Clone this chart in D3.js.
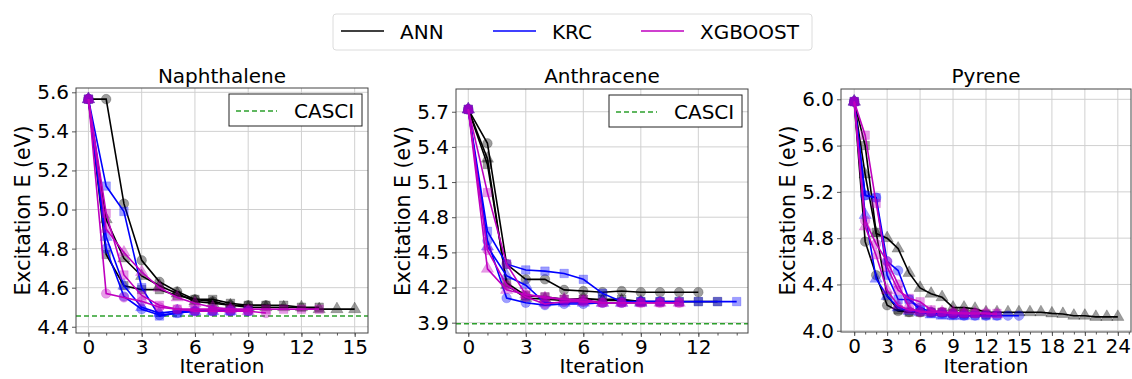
<!DOCTYPE html>
<html>
<head>
<meta charset="utf-8">
<script src="https://cdn.jsdelivr.net/npm/d3@7"></script>
<style>
  body { margin: 0; background: #fff; }
  svg { font-family: "DejaVu Sans", sans-serif; }
</style>
</head>
<body>
<svg id="chart" width="1132" height="379"></svg>
<script>
// ---- data (runs per method: circle, square, triangle markers) ----
const methods = ["ANN", "KRC", "XGBOOST"];

const naphANN = [
  [5.565, 5.565, 5.03, 4.74, 4.63, 4.58, 4.54, 4.53, 4.51, 4.51, 4.51],
  [5.565, 4.77, 4.61, 4.59, 4.59, 4.56, 4.54, 4.54, 4.52, 4.51, 4.51, 4.51, 4.50, 4.50],
  [5.565, 4.95, 4.75, 4.66, 4.61, 4.57, 4.53, 4.52, 4.51, 4.50, 4.50, 4.50, 4.50, 4.49, 4.49, 4.49]
];
const naphKRC = [
  [5.565, 4.80, 4.555, 4.49, 4.46, 4.47, 4.48, 4.48, 4.48, 4.48],
  [5.565, 5.12, 4.99, 4.60, 4.455, 4.47, 4.48, 4.48, 4.48, 4.48],
  [5.565, 4.86, 4.61, 4.50, 4.47, 4.48, 4.48, 4.48, 4.48]
];
const naphXGB = [
  [5.565, 4.57, 4.55, 4.53, 4.50, 4.49, 4.48, 4.48, 4.48, 4.48, 4.47],
  [5.565, 4.98, 4.665, 4.56, 4.51, 4.49, 4.49, 4.49, 4.49, 4.49, 4.49, 4.49, 4.49, 4.49],
  [5.565, 4.90, 4.78, 4.68, 4.60, 4.55, 4.52, 4.50, 4.49, 4.48]
];

const anthANN = [
  [5.72, 5.43, 4.40, 4.27, 4.27, 4.18, 4.17, 4.16, 4.17, 4.16, 4.16, 4.16, 4.16],
  [5.72, 5.25, 4.24, 4.13, 4.12, 4.10, 4.10, 4.10, 4.10, 4.08, 4.08, 4.08, 4.08, 4.08],
  [5.72, 5.30, 4.22, 4.11, 4.10, 4.09, 4.11, 4.09, 4.09, 4.08]
];
const anthKRC = [
  [5.72, 4.60, 4.11, 4.07, 4.05, 4.06, 4.06, 4.07, 4.07, 4.08, 4.08],
  [5.72, 4.68, 4.40, 4.35, 4.34, 4.32, 4.27, 4.15, 4.08, 4.08, 4.08, 4.08, 4.08, 4.08, 4.08],
  [5.72, 4.55, 4.30, 4.22, 4.07, 4.07, 4.07, 4.07, 4.07, 4.07]
];
const anthXGB = [
  [5.72, 4.52, 4.22, 4.12, 4.06, 4.08, 4.08, 4.07, 4.07, 4.07, 4.07, 4.07],
  [5.72, 5.01, 4.40, 4.14, 4.12, 4.10, 4.10, 4.07, 4.07, 4.07, 4.07, 4.07],
  [5.72, 4.36, 4.18, 4.14, 4.11, 4.10, 4.08, 4.07, 4.07, 4.07, 4.07, 4.07]
];

const pyrANN = [
  [5.98, 4.77, 4.48, 4.22, 4.17, 4.16, 4.16, 4.16, 4.16, 4.15, 4.15],
  [5.98, 5.60, 4.85, 4.30, 4.18, 4.16, 4.16, 4.16, 4.16, 4.15, 4.15, 4.15, 4.14],
  [5.98, 5.35, 4.84, 4.80, 4.71, 4.50, 4.37, 4.32, 4.29, 4.20, 4.20, 4.19, 4.16, 4.16, 4.16, 4.16, 4.16, 4.16, 4.15, 4.145, 4.13, 4.13, 4.12, 4.12, 4.12]
];
const pyrKRC = [
  [5.98, 5.17, 5.15, 4.60, 4.52, 4.27, 4.20, 4.16, 4.15, 4.14, 4.13, 4.13, 4.13, 4.13, 4.13, 4.13],
  [5.98, 5.17, 5.15, 4.48, 4.27, 4.27, 4.18, 4.15, 4.14, 4.13, 4.13, 4.13, 4.13, 4.13],
  [5.98, 5.00, 4.45, 4.30, 4.20, 4.17, 4.16, 4.14, 4.13, 4.13, 4.13]
];
const pyrXGB = [
  [5.98, 4.95, 4.75, 4.60, 4.40, 4.20, 4.16, 4.16, 4.16, 4.15, 4.15, 4.15],
  [5.98, 5.69, 5.10, 4.55, 4.35, 4.28, 4.25, 4.18, 4.16, 4.15, 4.15, 4.15, 4.15, 4.15],
  [5.98, 4.90, 4.65, 4.35, 4.22, 4.18, 4.17, 4.16, 4.16, 4.16, 4.15, 4.15, 4.15, 4.14]
];

const naphYTicks = [4.4, 4.6, 4.8, 5.0, 5.2, 5.4, 5.6];
const anthYTicks = [3.9, 4.2, 4.5, 4.8, 5.1, 5.4, 5.7];
const pyrYTicks = [4.0, 4.4, 4.8, 5.2, 5.6, 6.0];
const naphXTicks = [0, 3, 6, 9, 12, 15];
const anthXTicks = [0, 3, 6, 9, 12];
const pyrXTicks = [0, 3, 6, 9, 12, 15, 18, 21, 24];

const naphCasci = 4.455;
const anthCasci = 3.89;

// ---- styling ----
const lineColors = { ANN: "#000000", KRC: "#0000ff", XGBOOST: "#bf00bf" };
const markerColors = { ANN: "#000000", KRC: "#0000ff", XGBOOST: "#bf00bf" };
const shapes = [d3.symbolCircle, d3.symbolSquare, d3.symbolTriangle];
const FONT = 20;

const panels = [
  { title: "Naphthalene", runs: [naphANN, naphKRC, naphXGB], yTicks: naphYTicks, xTicks: naphXTicks,
    casci: naphCasci, box: [76, 368, 88, 333], xDom: [-0.7, 15.75], yDom: [4.368, 5.622], xMax: 15 },
  { title: "Anthracene", runs: [anthANN, anthKRC, anthXGB], yTicks: anthYTicks, xTicks: anthXTicks,
    casci: anthCasci, box: [456, 748, 89, 333], xDom: [-0.64, 14.59], yDom: [3.812, 5.894], xMax: 14 },
  { title: "Pyrene", runs: [pyrANN, pyrKRC, pyrXGB], yTicks: pyrYTicks, xTicks: pyrXTicks,
    casci: null, box: [841, 1131, 89, 332], xDom: [-1.2, 25.2], yDom: [3.989, 6.089], xMax: 25 }
];

const svg = d3.select("#chart");

panels.forEach(p => {
  const [x0, x1, y0, y1] = p.box;
  const x = d3.scaleLinear().domain(p.xDom).range([x0, x1]);
  const y = d3.scaleLinear().domain(p.yDom).range([y1, y0]);
  const g = svg.append("g");

  // grid
  g.append("g").selectAll("line").data(p.xTicks).join("line")
    .attr("x1", d => x(d)).attr("x2", d => x(d)).attr("y1", y0).attr("y2", y1)
    .attr("stroke", "#d0d0d0").attr("stroke-width", 1);
  g.append("g").selectAll("line").data(p.yTicks).join("line")
    .attr("x1", x0).attr("x2", x1).attr("y1", d => y(d)).attr("y2", d => y(d))
    .attr("stroke", "#d0d0d0").attr("stroke-width", 1);

  // axes
  const xAxis = d3.axisBottom(x).tickValues(p.xTicks).tickSize(4).tickPadding(3).tickFormat(d3.format("d"));
  const xMinor = d3.axisBottom(x).tickValues(d3.range(0, p.xMax + 1)).tickSize(2.5).tickFormat("");
  const yAxis = d3.axisLeft(y).tickValues(p.yTicks).tickSize(4).tickPadding(3).tickFormat(d3.format(".1f"));

  g.append("g").attr("transform", `translate(0,${y1})`).call(xMinor)
    .call(a => a.select(".domain").remove())
    .selectAll("line").attr("stroke", "#555");
  const gx = g.append("g").attr("transform", `translate(0,${y1})`).call(xAxis);
  gx.select(".domain").remove();
  gx.selectAll("line").attr("stroke", "#555");
  gx.selectAll("text").attr("font-size", FONT).attr("font-family", "DejaVu Sans").attr("fill", "#000");

  const gy = g.append("g").attr("transform", `translate(${x0},0)`).call(yAxis);
  gy.select(".domain").remove();
  gy.selectAll("line").attr("stroke", "#555");
  gy.selectAll("text").attr("font-size", FONT).attr("font-family", "DejaVu Sans").attr("fill", "#000");

  // casci reference line
  if (p.casci !== null) {
    g.append("line")
      .attr("x1", x0).attr("x2", x1).attr("y1", y(p.casci)).attr("y2", y(p.casci))
      .attr("stroke", "#2ca02c").attr("stroke-width", 1.5).attr("stroke-dasharray", "5,3");
  }

  // series
  const clip = "clip-" + p.title;
  svg.append("clipPath").attr("id", clip).append("rect")
    .attr("x", x0).attr("y", y0).attr("width", x1 - x0).attr("height", y1 - y0);
  const plot = g.append("g").attr("clip-path", `url(#${clip})`);
  const line = d3.line().x((d, i) => x(i)).y(d => y(d));

  p.runs.forEach((methodRuns, mi) => {
    const m = methods[mi];
    methodRuns.forEach((run, ri) => {
      plot.append("g").selectAll("path").data(run).join("path")
        .attr("transform", (d, i) => `translate(${x(i)},${y(d)})`)
        .attr("d", d3.symbol().type(shapes[ri]).size(ri === 2 ? 65 : 72))
        .attr("fill", markerColors[m]).attr("fill-opacity", 0.38)
        .attr("stroke", markerColors[m]).attr("stroke-opacity", 0.2);
      plot.append("path").datum(run)
        .attr("d", line).attr("fill", "none")
        .attr("stroke", lineColors[m]).attr("stroke-width", 1.6);
    });
  });

  // frame
  g.append("rect").attr("x", x0).attr("y", y0).attr("width", x1 - x0).attr("height", y1 - y0)
    .attr("fill", "none").attr("stroke", "#444").attr("stroke-width", 1);

  // titles and labels
  g.append("text").attr("x", (x0 + x1) / 2).attr("y", 83).attr("text-anchor", "middle")
    .attr("font-size", FONT).text(p.title);
  g.append("text").attr("x", (x0 + x1) / 2).attr("y", 373).attr("text-anchor", "middle")
    .attr("font-size", FONT).text("Iteration");
  g.append("text").attr("transform", `translate(${x0 - 46},${(y0 + y1) / 2}) rotate(-90)`)
    .attr("text-anchor", "middle").attr("font-size", 20.5).text("Excitation E (eV)");

  // casci legend
  if (p.casci !== null) {
    const lg = g.append("g").attr("transform", `translate(${x1 - 139},${y0 + 6})`);
    lg.append("rect").attr("width", 133).attr("height", 32).attr("fill", "#fff")
      .attr("stroke", "#222").attr("stroke-width", 1);
    lg.append("line").attr("x1", 7).attr("x2", 48).attr("y1", 17).attr("y2", 17)
      .attr("stroke", "#2ca02c").attr("stroke-width", 1.5).attr("stroke-dasharray", "5,3");
    lg.append("text").attr("x", 65).attr("y", 24).attr("font-size", FONT).text("CASCI");
  }
});

// top legend
const leg = svg.append("g");
leg.append("rect").attr("x", 333).attr("y", 14).attr("width", 479).attr("height", 36)
  .attr("rx", 3).attr("fill", "#fff").attr("stroke", "#dcdcdc").attr("stroke-width", 1);
const legX = [341, 493, 641];
methods.forEach((m, i) => {
  leg.append("line").attr("x1", legX[i]).attr("x2", legX[i] + 43).attr("y1", 31).attr("y2", 31)
    .attr("stroke", lineColors[m]).attr("stroke-width", 1.6);
  leg.append("text").attr("x", legX[i] + 59).attr("y", 39).attr("font-size", FONT).text(m);
});
</script>
</body>
</html>
